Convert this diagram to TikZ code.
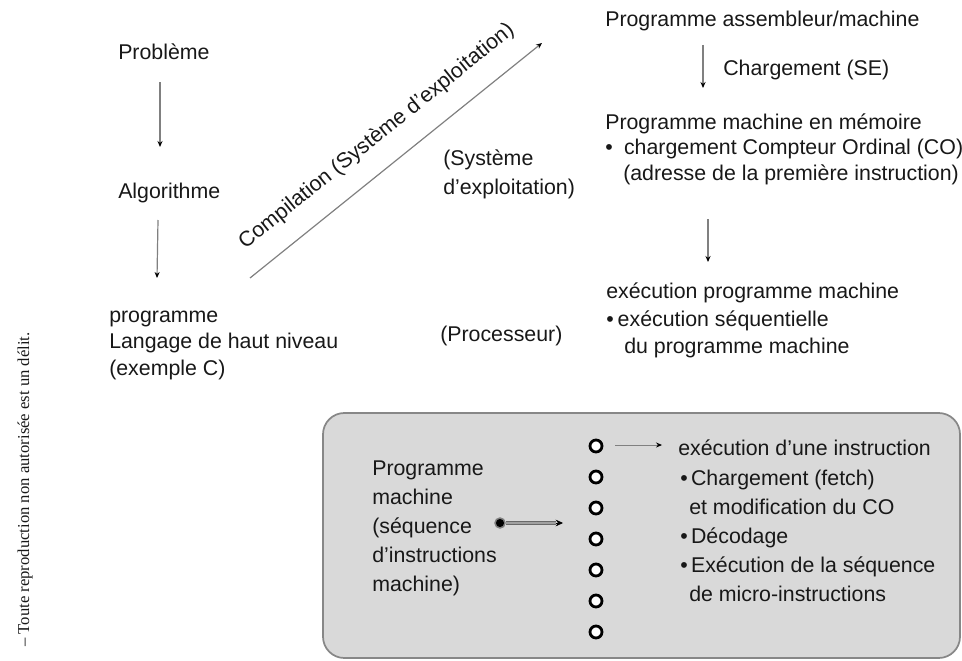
\documentclass[tikz,border=0pt]{standalone}
\usepackage{fontspec}
\setmainfont{Liberation Sans}
\newfontfamily\sidefont{Liberation Serif}
\usetikzlibrary{arrows.meta}
\definecolor{ink}{RGB}{24,24,24}
\definecolor{linegray}{RGB}{128,128,128}
\definecolor{boxfill}{RGB}{217,217,217}
\definecolor{boxline}{RGB}{135,135,135}
\definecolor{banddark}{RGB}{105,105,105}
\definecolor{bandlight}{RGB}{160,160,160}

\begin{document}
\begin{tikzpicture}[x=0.75pt,y=-0.75pt,
  txt/.style={anchor=base west, inner sep=0pt, text=ink,
              font=\fontsize{16}{19}\selectfont},
  flow/.style={draw=linegray, line width=0.9pt,
               -{Stealth[length=4.5pt,width=3.8pt,color=black]}},
  slot/.style={circle, draw=black, line width=2.1pt, fill=white,
               minimum size=9pt, inner sep=0pt},
  bandout/.style={draw=banddark, line width=3pt},
  bandin/.style={draw=bandlight, line width=1.4pt}
]
\useasboundingbox (0,0) rectangle (962,660);

% copyright note along the left edge
\node[rotate=90, anchor=base west, inner sep=0pt, text=ink,
      font=\sidefont\fontsize{12.5}{15}\selectfont] (note) at (29,647)
  {– Toute reproduction non autorisée est un délit.};

% left column: from the problem to the high-level program
\node[txt] (prob) at (118,60) {Problème};
\node[txt] (algo) at (118,198) {Algorithme};
\node[txt] (prog1) at (109,322) {programme};
\node[txt] (prog2) at (109,348) {Langage de haut niveau};
\node[txt] (prog3) at (109,375) {(exemple C)};

\coordinate (a1s) at (160,82);
\coordinate (a1e) at (160,147);
\coordinate (a2s) at (158,220);
\coordinate (a2e) at (157,278);
\draw[flow] (a1s) -- (a1e);
\draw[flow] (a2s) -- (a2e);

% compilation arrow
\coordinate (d0) at (250,278);
\coordinate (d1) at (542,43);
\draw[flow] (d0) -- node[sloped, midway, above=15pt, inner sep=0pt, text=ink,
    font=\fontsize{16}{19}\selectfont] (comp)
  {Compilation (Système d’exploitation)} (d1);

% middle labels
\node[txt] (sys1) at (443,165) {(Système};
\node[txt] (sys2) at (443,194) {d’exploitation)};
\node[txt] (proc) at (440,341) {(Processeur)};

% right column
\node[txt] (asm) at (605,27) {Programme assembleur/machine};
\node[txt] (load) at (723,75) {Chargement (SE)};
\node[txt] (mem1) at (605,129) {Programme machine en mémoire};
\node[txt] (mem2) at (605,154) {•\kern8.5pt chargement Compteur Ordinal (CO)};
\node[txt] (mem3) at (623,180) {(adresse de la première instruction)};
\node[txt] (ex1) at (606,298) {exécution programme machine};
\node[txt] (ex2) at (606,326) {•\kern3pt exécution séquentielle};
\node[txt] (ex3) at (624,353) {du programme machine};

\coordinate (r1s) at (703,45);
\coordinate (r1e) at (703,88);
\coordinate (r2s) at (708,219);
\coordinate (r2e) at (708,262);
\draw[flow] (r1s) -- (r1e);
\draw[flow] (r2s) -- (r2e);

% instruction cycle panel
\draw[draw=boxline, fill=boxfill, line width=1.3pt, rounded corners=16pt]
  (323,413) rectangle (960,658);

\node[txt] (bx1) at (372,475) {Programme};
\node[txt] (bx2) at (372,504) {machine};
\node[txt] (bx3) at (372,533) {(séquence};
\node[txt] (bx4) at (372,562) {d’instructions};
\node[txt] (bx5) at (372,591) {machine)};

% pointer from the program to its instruction slots
\node[circle, fill=black, draw=gray, line width=1.1pt, minimum size=7.5pt,
      inner sep=0pt] (dot) at (500,523) {};
\coordinate (bandtip) at (556,523);
\coordinate (bandend) at (563,523);
\draw[bandout] (dot.east) -- (bandtip);
\draw[bandin] (dot.east) -- (bandtip);
\draw[draw=black, line width=0.5pt,
      -{Stealth[length=5.5pt,width=5pt,color=black]}] (bandtip) -- (bandend);

\foreach \k in {0,...,6}
  \node[slot] (c\k) at (596,{446+31*\k}) {};

\node[txt] (i1) at (678,455) {exécution d’une instruction};
\node[txt] (i2) at (680,485) {•\kern2.5pt Chargement (fetch)};
\node[txt] (i3) at (689,514) {et modification du CO};
\node[txt] (i4) at (680,543) {•\kern2.5pt Décodage};
\node[txt] (i5) at (680,572) {•\kern2.5pt Exécution de la séquence};
\node[txt] (i6) at (689,601) {de micro-instructions};

\coordinate (s0) at (615,445);
\coordinate (s1) at (662,445);
\draw[flow, line width=0.7pt] (s0) -- (s1);
\end{tikzpicture}
\end{document}
